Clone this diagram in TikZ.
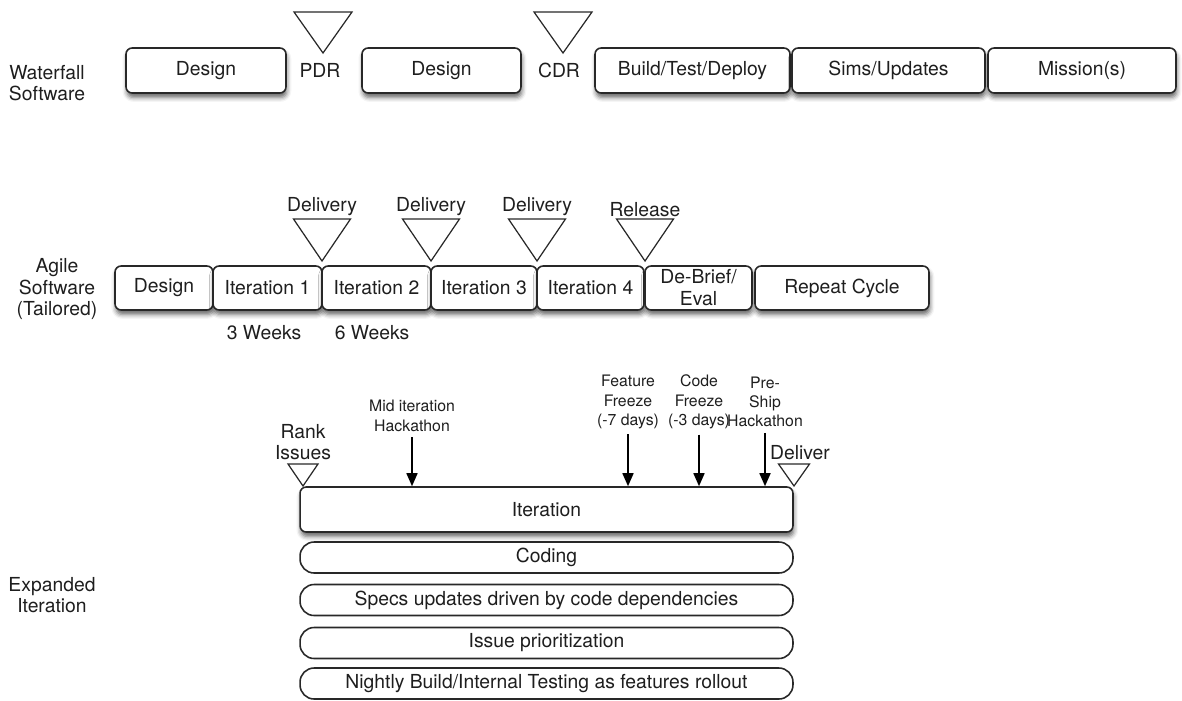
\documentclass[tikz,border=0pt]{standalone}
\usepackage{fontspec}
\setmainfont{TeX Gyre Heros}
\usetikzlibrary{arrows.meta, positioning, shadows.blur}
\definecolor{linegray}{RGB}{40, 40, 40}
\definecolor{textdark}{RGB}{30, 30, 30}
% milestone triangle: apex x, apex y, width, height
\newcommand{\msmark}[4]{\draw[marker] ({#1-#3/2},{#2-#4}) -- ({#1+#3/2},{#2-#4}) -- (#1,#2) -- cycle;}

\begin{document}
\begin{tikzpicture}[x=0.02cm, y=-0.02cm,
    stage/.style={rectangle, draw=linegray, rounded corners=3.5pt, fill=white, line width=0.9pt, minimum height=0.9cm, inner sep=0pt, align=center, font=\fontsize{11}{12.5}\selectfont, text=textdark, blur shadow={shadow xshift=0.5pt, shadow yshift=-2.5pt, shadow blur radius=2.5pt, shadow opacity=60}},
    pill/.style={rectangle, draw=linegray, rounded corners=8pt, fill=white, line width=0.9pt, minimum width=9.86cm, minimum height=0.62cm, inner sep=0pt, font=\fontsize{11}{12.5}\selectfont, text=textdark},
    lbl/.style={align=center, inner sep=0pt, font=\fontsize{11}{12.3}\selectfont, text=textdark},
    note/.style={align=center, inner sep=0pt, font=\fontsize{9}{11}\selectfont, text=textdark},
    marker/.style={draw=linegray, line width=0.7pt, fill=white, line join=miter},
    arrow/.style={-{Triangle[length=2.6mm, width=2.2mm]}, line width=0.9pt, draw=black},
]
\useasboundingbox (0,0) rectangle (1182,700);

% Waterfall
\node[lbl] (wlabel) at (47,83) {Waterfall\\Software};
\node[stage, minimum width=3.2cm] (wdes1) at (206,70.5) {Design};
\msmark{323}{53}{58}{41}
\node[lbl] (pdr) at (320,70) {PDR};
\node[stage, minimum width=3.18cm] (wdes2) at (441.5,70.5) {Design};
\msmark{563}{53}{58}{41}
\node[lbl] (cdr) at (559,70) {CDR};
\node[stage, minimum width=3.9cm] (build) at (692.5,70.5) {Build/Test/Deploy};
\node[stage, minimum width=3.86cm] (sims) at (888.5,70.5) {Sims/Updates};
\node[stage, minimum width=3.76cm] (mission) at (1082,70.5) {Mission(s)};

% Agile
\node[lbl] (alabel) at (57,289) {Agile\\Software\\(Tailored)};
\node[stage, minimum width=1.96cm, minimum height=0.88cm] (ades) at (164,288) {Design};
\node[stage, minimum width=2.18cm, minimum height=0.88cm] (it1) at (267.5,288) {Iteration 1};
\node[stage, minimum width=2.18cm, minimum height=0.88cm] (it2) at (376.5,288) {Iteration 2};
\node[stage, minimum width=2.12cm, minimum height=0.88cm] (it3) at (484,288) {Iteration 3};
\node[stage, minimum width=2.14cm, minimum height=0.88cm] (it4) at (590.5,288) {Iteration 4};
\node[stage, minimum width=2.14cm, minimum height=0.88cm] (debrief) at (698.5,288) {De-Brief/\\Eval};
\node[stage, minimum width=3.48cm, minimum height=0.88cm] (repeat) at (842,288) {Repeat Cycle};
\msmark{322}{261}{57}{42}
\msmark{431}{261}{57}{42}
\msmark{537}{261}{57}{42}
\msmark{645}{261}{57}{42}
\node[lbl] (del1) at (322,207) {Delivery};
\node[lbl] (del2) at (431,207) {Delivery};
\node[lbl] (del3) at (537,207) {Delivery};
\node[lbl] (rel) at (645,210) {Release};
\node[lbl] (wk3) at (264,333) {3 Weeks};
\node[lbl] (wk6) at (372,333) {6 Weeks};

% Expanded iteration
\node[lbl] (elabel) at (52,595) {Expanded\\Iteration};
\node[stage, minimum width=9.86cm] (iter) at (546.5,509.5) {Iteration};
\node[pill] (coding) at (546.5,557.5) {Coding};
\node[pill] (specs) at (546.5,600) {Specs updates driven by code dependencies};
\node[pill] (issue) at (546.5,643) {Issue prioritization};
\node[pill] (nightly) at (546.5,683.5) {Nightly Build/Internal Testing as features rollout};

\msmark{303}{486}{30}{22}
\node[lbl] (rank) at (303,442) {Rank\\Issues};
\msmark{794}{486}{31}{22}
\node[lbl] (deliver) at (800,453) {Deliver};

\node[note] (midhack) at (412,416) {Mid iteration\\Hackathon};
\node[note] (ffreeze) at (628,402) {Feature\\Freeze\\(-7 days)};
\node[note] (cfreeze) at (699,402) {Code\\Freeze\\(-3 days)};
\node[note] (preship) at (765,402) {Pre-\\Ship\\Hackathon};

\draw[arrow] ([yshift=-3pt]midhack.south) -- (midhack.south |- iter.north);
\draw[arrow] ([yshift=-3pt]ffreeze.south) -- (ffreeze.south |- iter.north);
\draw[arrow] ([yshift=-3pt]cfreeze.south) -- (cfreeze.south |- iter.north);
\draw[arrow] ([yshift=-3pt]preship.south) -- (preship.south |- iter.north);

\end{tikzpicture}
\end{document}
